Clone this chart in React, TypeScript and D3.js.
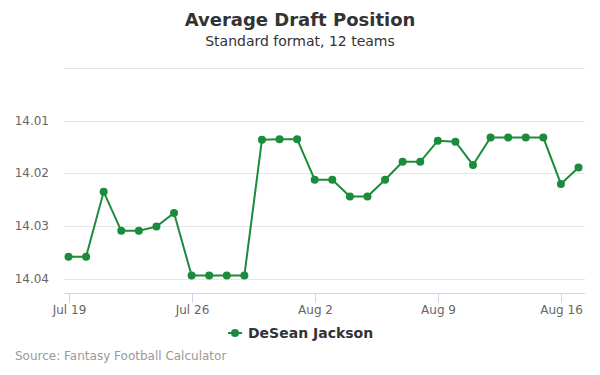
import * as d3 from "d3";
import { useEffect, useRef } from "react";

const dates = [
    "2018-07-19", "2018-07-20", "2018-07-21", "2018-07-22", "2018-07-23",
    "2018-07-24", "2018-07-25", "2018-07-26", "2018-07-27", "2018-07-28",
    "2018-07-29", "2018-07-30", "2018-07-31", "2018-08-01", "2018-08-02",
    "2018-08-03", "2018-08-04", "2018-08-05", "2018-08-06", "2018-08-07",
    "2018-08-08", "2018-08-09", "2018-08-10", "2018-08-11", "2018-08-12",
    "2018-08-13", "2018-08-14", "2018-08-15", "2018-08-16", "2018-08-17",
];

const adp = [
    14.0358, 14.0358, 14.0235, 14.0309, 14.0309,
    14.0301, 14.0275, 14.0394, 14.0394, 14.0394,
    14.0394, 14.0136, 14.0135, 14.0135, 14.0212,
    14.0212, 14.0244, 14.0244, 14.0212, 14.0178,
    14.0178, 14.0138, 14.014, 14.0184, 14.0132,
    14.0132, 14.0132, 14.0132, 14.022, 14.0189,
];

const yTicks = [14.0, 14.01, 14.02, 14.03, 14.04];
const xTicks = ["2018-07-19", "2018-07-26", "2018-08-02", "2018-08-09", "2018-08-16"];

const playerName = "DeSean Jackson";
const green = "#1b8c3b";
const font = "'DejaVu Sans', sans-serif";

export default function App() {
    const svgRef = useRef<SVGSVGElement | null>(null);

    useEffect(() => {
        document.body.style.margin = "0";
        if (!svgRef.current) return;

        const svg = d3.select(svgRef.current);
        svg.selectAll("*").remove();

        const left = 64;
        const right = 585;
        const top = 68;
        const bottom = 293;

        const parse = d3.timeParse("%Y-%m-%d");
        const ds = dates.map((d) => parse(d)!);

        const x = d3
            .scaleTime()
            .domain([parse("2018-07-19")!, parse("2018-08-17")!])
            .range([68.5, 578.5]);

        const y = d3.scaleLinear().domain([14.0, 14.0427]).range([top, bottom]);

        svg.append("text")
            .attr("x", 300)
            .attr("y", 26)
            .attr("text-anchor", "middle")
            .attr("font-family", font)
            .attr("font-size", 18)
            .attr("font-weight", "bold")
            .attr("fill", "#333")
            .text("Average Draft Position");

        svg.append("text")
            .attr("x", 300)
            .attr("y", 46)
            .attr("text-anchor", "middle")
            .attr("font-family", font)
            .attr("font-size", 14)
            .attr("fill", "#333")
            .text("Standard format, 12 teams");

        // grid
        svg.append("g")
            .selectAll("line")
            .data(yTicks)
            .join("line")
            .attr("x1", left)
            .attr("x2", right)
            .attr("y1", (d) => Math.round(y(d)) + 0.5)
            .attr("y2", (d) => Math.round(y(d)) + 0.5)
            .attr("stroke", "#e6e6e6");

        svg.append("g")
            .selectAll("text")
            .data(yTicks.filter((d) => d > 14.0))
            .join("text")
            .attr("x", 49)
            .attr("y", (d) => y(d) + 4)
            .attr("text-anchor", "end")
            .attr("font-family", font)
            .attr("font-size", 12)
            .attr("fill", "#666")
            .text((d) => d.toFixed(2));

        // x axis
        svg.append("line")
            .attr("x1", left)
            .attr("x2", right)
            .attr("y1", bottom + 0.5)
            .attr("y2", bottom + 0.5)
            .attr("stroke", "#ccd6eb");

        const xt = svg.append("g")
            .selectAll("g")
            .data(xTicks.map((d) => parse(d)!))
            .join("g")
            .attr("transform", (d) => `translate(${Math.round(x(d)) + 0.5},0)`);

        xt.append("line")
            .attr("y1", bottom)
            .attr("y2", bottom + 10)
            .attr("stroke", "#ccd6eb");

        xt.append("text")
            .attr("y", 314)
            .attr("text-anchor", "middle")
            .attr("font-family", font)
            .attr("font-size", 12)
            .attr("fill", "#666")
            .text((d) => d3.timeFormat("%b %-d")(d));

        // series
        const line = d3
            .line<number>()
            .x((d, i) => x(ds[i]))
            .y((d) => y(d));

        svg.append("path")
            .datum(adp)
            .attr("fill", "none")
            .attr("stroke", green)
            .attr("stroke-width", 2)
            .attr("d", line);

        svg.append("g")
            .selectAll("circle")
            .data(adp)
            .join("circle")
            .attr("cx", (d, i) => x(ds[i]))
            .attr("cy", (d) => y(d))
            .attr("r", 4)
            .attr("fill", green);

        // legend
        const lg = svg.append("g").attr("transform", "translate(228,333)");
        lg.append("line")
            .attr("x1", 0)
            .attr("x2", 14)
            .attr("stroke", green)
            .attr("stroke-width", 2);
        lg.append("circle").attr("cx", 7).attr("r", 4).attr("fill", green);
        lg.append("text")
            .attr("x", 20)
            .attr("y", 5)
            .attr("font-family", font)
            .attr("font-size", 14)
            .attr("font-weight", "bold")
            .attr("fill", "#333")
            .text(playerName);

        svg.append("text")
            .attr("x", 15)
            .attr("y", 360)
            .attr("font-family", font)
            .attr("font-size", 12)
            .attr("fill", "#999")
            .text("Source: Fantasy Football Calculator");
    }, []);

    return <svg ref={svgRef} width={600} height={375} style={{ display: "block" }} />;
}
